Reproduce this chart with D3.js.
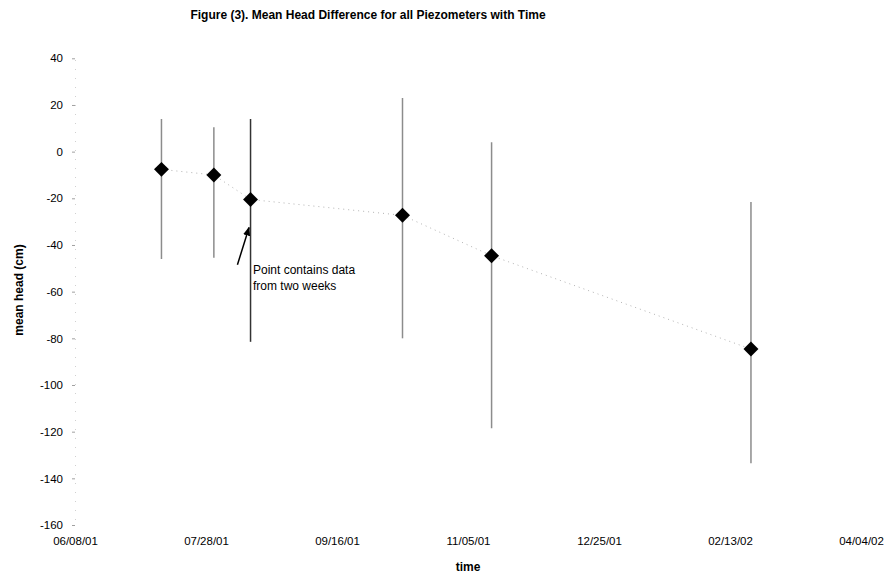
<!DOCTYPE html>
<html>
<head>
<meta charset="utf-8">
<script src="https://cdn.jsdelivr.net/npm/d3@7"></script>
<style>
  html, body { margin: 0; padding: 0; background: #fff; }
  svg { display: block; font-family: "Liberation Sans", Arial, sans-serif; }
</style>
</head>
<body>
<svg id="chart" width="885" height="574"></svg>
<script>
// Sampling dates (mm/dd/yy) and mean head difference with its range (cm)
const dates = ["07/11/01", "07/31/01", "08/14/01", "10/11/01", "11/14/01", "02/21/02"];
const meanHead = [-7.6, -10, -20.5, -27.3, -44.6, -84.6];
const rangeHigh = [14, 10.5, 14, 23, 4, -21.6];
const rangeLow = [-46, -45.5, -81.5, -80, -118.5, -133.5];

// Axis tick labels
const xTickLabels = ["06/08/01", "07/28/01", "09/16/01", "11/05/01", "12/25/01", "02/13/02", "04/04/02"];
const yTickValues = [40, 20, 0, -20, -40, -60, -80, -100, -120, -140, -160];

const parse = d3.timeParse("%m/%d/%y");
const fmt = d3.timeFormat("%m/%d/%y");

const svg = d3.select("#chart");

const x = d3.scaleTime()
  .domain([parse(xTickLabels[0]), parse(xTickLabels[xTickLabels.length - 1])])
  .range([75, 861]);
const y = d3.scaleLinear().domain([-160, 40]).range([525, 58.3]);

const points = dates.map((d, i) => ({
  date: parse(d), mean: meanHead[i], hi: rangeHigh[i], lo: rangeLow[i], i
}));

// Title
svg.append("text")
  .attr("x", 368).attr("y", 19)
  .attr("text-anchor", "middle")
  .attr("font-size", 12).attr("font-weight", "bold")
  .text("Figure (3). Mean Head Difference for all Piezometers with Time");

// Y axis: faint dotted spine with short ticks, plain hyphen minus signs
const yAxis = d3.axisLeft(y).tickValues(yTickValues).tickFormat(d => String(d))
  .tickSize(3).tickPadding(9);
const gy = svg.append("g").attr("transform", "translate(75,0)").call(yAxis);
gy.select(".domain").attr("stroke", "#d0d0d0").attr("stroke-dasharray", "1,8");
gy.selectAll(".tick line").attr("stroke", "#a0a0a0");
gy.selectAll(".tick text").attr("font-size", 11.5).attr("fill", "#000")
  .attr("font-family", "'Liberation Sans', Arial, sans-serif");

// X axis: labels only
const xAxis = d3.axisBottom(x)
  .tickValues(xTickLabels.map(parse))
  .tickFormat(fmt)
  .tickSize(0).tickPadding(12);
const gx = svg.append("g").attr("transform", "translate(0,525)").call(xAxis);
gx.select(".domain").remove();
gx.selectAll(".tick text").attr("font-size", 11.5).attr("fill", "#000")
  .attr("font-family", "'Liberation Sans', Arial, sans-serif");

// Axis titles
svg.append("text")
  .attr("transform", "translate(23,290) rotate(-90)")
  .attr("text-anchor", "middle")
  .attr("font-size", 12).attr("font-weight", "bold")
  .text("mean head (cm)");
svg.append("text")
  .attr("x", 468).attr("y", 571)
  .attr("text-anchor", "middle")
  .attr("font-size", 12).attr("font-weight", "bold")
  .text("time");

// Faint dotted trend line through the means
const line = d3.line().x(d => x(d.date)).y(d => y(d.mean));
svg.append("path")
  .datum(points)
  .attr("d", line)
  .attr("fill", "none")
  .attr("stroke", "#b4b4b4")
  .attr("stroke-width", 1)
  .attr("stroke-dasharray", "1,4");

// Range bars
svg.selectAll("line.range")
  .data(points)
  .join("line")
  .attr("class", "range")
  .attr("x1", d => x(d.date)).attr("x2", d => x(d.date))
  .attr("y1", d => y(d.hi)).attr("y2", d => y(d.lo))
  .attr("stroke", d => d.i === 2 ? "#333" : "#8c8c8c")
  .attr("stroke-width", 1.5);

// Diamond markers
svg.selectAll("path.mark")
  .data(points)
  .join("path")
  .attr("class", "mark")
  .attr("d", d3.symbol(d3.symbolSquare, 112))
  .attr("transform", d => `translate(${x(d.date)},${y(d.mean)}) rotate(45)`)
  .attr("fill", "#000");

// Annotation pointing at the combined two-week point
const noteTail = { date: parse("08/09/01"), value: -48.5 };
const noteTip = { date: parse("08/14/01"), value: -32.5 };
svg.append("defs").append("marker")
  .attr("id", "arrow")
  .attr("viewBox", "0 0 10 10")
  .attr("refX", 9).attr("refY", 5)
  .attr("markerWidth", 6).attr("markerHeight", 6)
  .attr("orient", "auto")
  .append("path").attr("d", "M0,1 L10,5 L0,9 Z").attr("fill", "#000");
svg.append("line")
  .attr("x1", x(noteTail.date)).attr("y1", y(noteTail.value))
  .attr("x2", x(noteTip.date) - 1.5).attr("y2", y(noteTip.value))
  .attr("stroke", "#000").attr("stroke-width", 1.5)
  .attr("marker-end", "url(#arrow)");

const note = svg.append("text")
  .attr("x", 253).attr("y", 274)
  .attr("font-size", 12).attr("fill", "#000");
note.append("tspan").attr("x", 253).attr("dy", 0).text("Point contains data");
note.append("tspan").attr("x", 253).attr("dy", 16).text("from two weeks");
</script>
</body>
</html>
